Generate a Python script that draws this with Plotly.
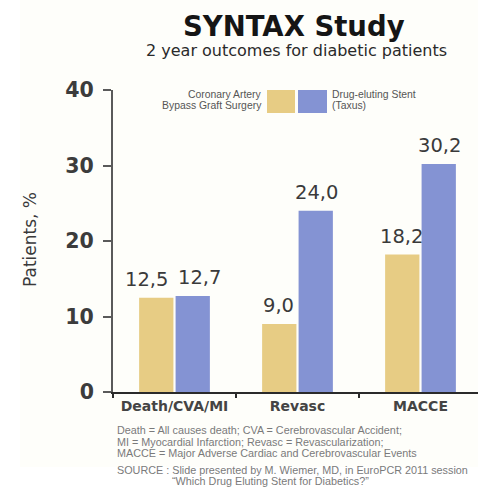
import plotly.graph_objects as go

# --- data -------------------------------------------------------------
categories = ["Death/CVA/MI", "Revasc", "MACCE"]
cabg_values = [12.5, 9.0, 18.2]      # Coronary Artery Bypass Graft Surgery
stent_values = [12.7, 24.0, 30.2]    # Drug-eluting Stent (Taxus)
y_ticks = [0, 10, 20, 30, 40]

# --- styling ----------------------------------------------------------
W, H = 478, 487
M_L, M_R, M_T, M_B = 113, 0, 90, 95
PW, PH = W - M_L - M_R, H - M_T - M_B
YELLOW = "#E7CC84"
BLUE = "#8493D3"
DARK = "#3a3a3a"
GREY = "#7a7a7a"


def px(x):
    """horizontal pixel -> paper fraction"""
    return (x - M_L) / PW


def py(y):
    """vertical pixel -> paper fraction"""
    return (H - M_B - y) / PH


def fmt(v):
    return f"{v:.1f}".replace(".", ",")


def text_line(x, y, text, size, color, family="Liberation Sans", anchor="left"):
    return dict(x=px(x), y=py(y), xref="paper", yref="paper", text=text, showarrow=False,
                xanchor=anchor, yanchor="middle", align=anchor,
                font=dict(family=family, size=size, color=color))


fig = go.Figure()
fig.add_trace(go.Bar(x=categories, y=cabg_values, name="Coronary Artery Bypass Graft Surgery",
                     marker=dict(color=YELLOW, line=dict(width=0)), showlegend=False))
fig.add_trace(go.Bar(x=categories, y=stent_values, name="Drug-eluting Stent (Taxus)",
                     marker=dict(color=BLUE, line=dict(width=0)), showlegend=False))

annotations = []

# value labels above each bar (small nudge apart where the pair would collide)
bar_offset = 19
nudge = {0: (-9, 6)}
for i, cat in enumerate(categories):
    ny, nb = nudge.get(i, (0, 0))
    for val, base, n in ((cabg_values[i], -bar_offset, ny), (stent_values[i], bar_offset, nb)):
        annotations.append(dict(x=cat, y=val, xref="x", yref="y", text=fmt(val),
                                showarrow=False, xanchor="center", yanchor="bottom",
                                xshift=base + n, yshift=5,
                                font=dict(family="DejaVu Sans", size=19.5, color=DARK)))

# titles
annotations.append(text_line(294, 26, "<b>SYNTAX Study</b>", 27.5, "#151515",
                             family="DejaVu Sans", anchor="center"))
annotations.append(text_line(296, 50, "2 year outcomes for diabetic patients", 16, "#2a2a2a",
                             family="DejaVu Sans", anchor="center"))

# y-axis title
annotations.append(dict(x=px(30), y=py(240), xref="paper", yref="paper", text="Patients, %",
                        textangle=-90, showarrow=False, xanchor="center", yanchor="middle",
                        font=dict(family="DejaVu Sans", size=17, color=DARK)))

# legend
LEG = "#555555"
annotations.append(text_line(264, 95, "Coronary Artery", 10.4, LEG, anchor="right"))
annotations.append(text_line(264, 105, "Bypass Graft Surgery", 10.4, LEG, anchor="right"))
annotations.append(text_line(330, 95, "Drug-eluting Stent", 10.4, LEG))
annotations.append(text_line(330, 105, "(Taxus)", 10.4, LEG))

# footnotes
FN = 10.8
annotations.append(text_line(115, 430, "Death = All causes death; CVA = Cerebrovascular Accident;", FN, GREY))
annotations.append(text_line(115, 441.5, "MI = Myocardial Infarction; Revasc = Revascularization;", FN, GREY))
annotations.append(text_line(115, 453, "MACCE = Major Adverse Cardiac and Cerebrovascular Events", FN, GREY))
annotations.append(text_line(115, 470, "SOURCE : Slide presented by M. Wiemer, MD, in EuroPCR 2011 session", FN, GREY))
annotations.append(text_line(170, 481, "\u201cWhich Drug Eluting Stent for Diabetics?\u201d", FN, GREY))

shapes = [
    # faint warm backdrop of the slide
    dict(type="rect", xref="paper", yref="paper", x0=px(20), x1=px(W), y0=py(467), y1=py(0),
         fillcolor="#FEFEFA", line=dict(width=0), layer="below"),
    # legend swatches
    dict(type="rect", xref="paper", yref="paper", x0=px(267), x1=px(295), y0=py(113), y1=py(90),
         fillcolor=YELLOW, line=dict(width=0)),
    dict(type="rect", xref="paper", yref="paper", x0=px(298), x1=px(327), y0=py(113), y1=py(90),
         fillcolor=BLUE, line=dict(width=0)),
]

fig.update_layout(
    width=W, height=H,
    margin=dict(l=M_L, r=M_R, t=M_T, b=M_B, pad=0),
    paper_bgcolor="white", plot_bgcolor="rgba(0,0,0,0)",
    barmode="group", bargap=0.407, bargroupgap=0.06,
    annotations=annotations, shapes=shapes,
    font=dict(family="DejaVu Sans", color=DARK),
)
fig.update_xaxes(
    range=[-0.5, -0.5 + PW / 123], showgrid=False, zeroline=False,
    showline=True, linecolor="#2a2a2a", linewidth=2,
    ticks="outside", tickson="boundaries", ticklen=4, tickwidth=2, tickcolor="#2a2a2a",
    tickfont=dict(family="DejaVu Sans", size=14, color="#444444", weight="bold"),
    fixedrange=True,
)
fig.update_yaxes(
    range=[0, 40], tickvals=y_ticks, showgrid=False, zeroline=False,
    showline=True, linecolor="#5a5a5a", linewidth=2,
    ticks="outside", ticklen=8, tickwidth=2, tickcolor="#5a5a5a",
    tickfont=dict(family="DejaVu Sans", size=20.5, color="#3c3c3c", weight="bold"),
    ticklabelstandoff=5,
    fixedrange=True,
)

fig.write_html("out.html")
